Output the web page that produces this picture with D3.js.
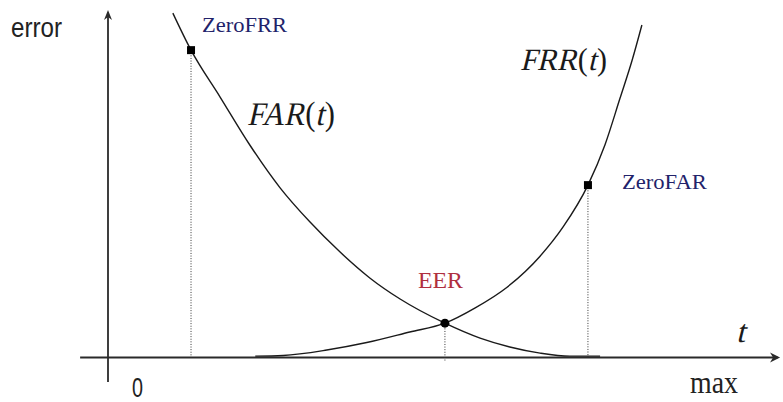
<!DOCTYPE html>
<html>
<head>
<meta charset="utf-8">
<script src="https://cdn.jsdelivr.net/npm/d3@7"></script>
<style>
  body { margin: 0; background: #fff; }
  svg { display: block; }
</style>
</head>
<body>
<div id="chart"></div>
<script>
// FAR / FRR en función del umbral t (0..max).
// error en una escala 0..100 arbitraria.
const farT = [10.7, 13.7, 18.5, 23.4, 28.4, 33.3, 38.3, 43.2, 48.2, 55.6, 61.4, 66.3, 71.3, 76.2, 81.2];
const farE = [101.3, 90.4, 76.6, 62.5, 49.9, 39.9, 31.0, 23.4, 17.2, 10.1, 5.7, 3.1, 1.3, 0.4, 0.4];

const frrT = [24.3, 28.9, 36.1, 42.7, 49.8, 55.6, 60.6, 65.8, 71.3, 75.1, 79.2, 82.0, 84.5, 86.5, 88.1];
const frrE = [0.4, 0.6, 2.2, 4.4, 7.5, 10.1, 14.6, 20.6, 29.8, 38.4, 50.7, 62.5, 76.3, 87.5, 97.8];

// puntos notables
const pointNames = ['ZeroFRR', 'EER', 'ZeroFAR'];
const pointT = [13.7, 55.6, 79.2];
const pointE = [90.4, 10.1, 50.7];

const tickValues = [0, 100];
const tickLabels = ['0', 'max'];

const width = 783, height = 402;

const x = d3.scaleLinear().domain([0, 100]).range([108, 714]);
const y = d3.scaleLinear().domain([0, 100]).range([357.5, 17.5]);

const svg = d3.select('#chart').append('svg')
  .attr('width', width).attr('height', height)
  .attr('role', 'img')
  .attr('aria-label', 'FAR(t) y FRR(t) frente al umbral t, con ZeroFRR, EER y ZeroFAR');

const ink = '#1a1a1a';
const serif = '"Liberation Serif", "Times New Roman", serif';

// ejes con flecha
svg.append('line')
  .attr('x1', x(-4.6)).attr('x2', x(110.5)).attr('y1', y(0)).attr('y2', y(0))
  .attr('stroke', '#2a2a2a').attr('stroke-width', 1.8);
svg.append('line')
  .attr('x1', x(0)).attr('x2', x(0)).attr('y1', y(-7.2)).attr('y2', y(101.5))
  .attr('stroke', '#2a2a2a').attr('stroke-width', 1.8);

const ax = x(0), ay = y(102.2);
svg.append('path')
  .attr('d', `M${ax},${ay} L${ax - 4},${ay + 10} L${ax},${ay + 7} L${ax + 4},${ay + 10} Z`)
  .attr('fill', '#2a2a2a');
const bx = x(110.9), by = y(0);
svg.append('path')
  .attr('d', `M${bx},${by} L${bx - 10},${by - 5} L${bx - 7},${by} L${bx - 10},${by + 5} Z`)
  .attr('fill', '#2a2a2a');

// líneas punteadas desde los puntos al eje
pointT.forEach((t, i) => {
  svg.append('line')
    .attr('x1', x(t)).attr('x2', x(t))
    .attr('y1', y(pointE[i])).attr('y2', y(0) + (i === 1 ? 3 : 0))
    .attr('stroke', '#333').attr('stroke-width', 1)
    .attr('stroke-dasharray', '1,1.6');
});

// curvas
const line = d3.line()
  .x(d => x(d[0])).y(d => y(d[1]))
  .curve(d3.curveMonotoneX);

[[farT, farE], [frrT, frrE]].forEach(([ts, es]) => {
  svg.append('path')
    .datum(ts.map((t, i) => [t, es[i]]))
    .attr('fill', 'none').attr('stroke', ink).attr('stroke-width', 1.4)
    .attr('d', line);
});

// marcadores
pointT.forEach((t, i) => {
  if (pointNames[i] === 'EER') {
    svg.append('circle').attr('cx', x(t)).attr('cy', y(pointE[i])).attr('r', 4.5).attr('fill', '#000');
  } else {
    svg.append('rect')
      .attr('x', x(t) - 4).attr('y', y(pointE[i]) - 4)
      .attr('width', 8).attr('height', 8).attr('fill', '#000');
  }
});

// etiquetas de los puntos
const pointLabel = {
  ZeroFRR: { dx: 11, dy: -18, size: 21, len: 85, color: '#22226a' },
  EER:     { dx: -27, dy: -35, size: 24, len: 45, color: '#b0303f' },
  ZeroFAR: { dx: 34, dy: 4, size: 20, len: 85, color: '#22226a' }
};
pointNames.forEach((name, i) => {
  const L = pointLabel[name];
  svg.append('text')
    .attr('x', x(pointT[i]) + L.dx).attr('y', y(pointE[i]) + L.dy)
    .attr('font-family', serif)
    .attr('font-size', L.size)
    .attr('textLength', L.len).attr('lengthAdjust', 'spacingAndGlyphs')
    .attr('fill', L.color)
    .text(name);
});

// texto "matemático": letras en cursiva, paréntesis rectos
function mathLabel(px, py, size, len, parts) {
  const g = svg.append('g');
  let cx = 0;
  parts.forEach(([str, italic]) => {
    const t = g.append('text')
      .attr('font-family', serif).attr('font-size', size)
      .attr('fill', ink)
      .attr('transform', `translate(${cx},0)` + (italic ? ' skewX(-14)' : ''))
      .text(str);
    cx += t.node().getComputedTextLength() + (italic ? 1 : 0);
  });
  const k = len ? len / cx : 1;
  g.attr('transform', `translate(${px},${py}) scale(${k},1)`);
}
mathLabel(247, 125, 33, 88, [['FAR', true], ['(', false], ['t', true], [')', false]]);
mathLabel(520, 70, 31, 87, [['FRR', true], ['(', false], ['t', true], [')', false]]);
mathLabel(736, 342, 32, 0, [['t', true]]);

// rótulo del eje y
svg.append('text')
  .attr('x', 11).attr('y', 37)
  .attr('font-family', '"Liberation Sans", Arial, sans-serif')
  .attr('font-size', 28)
  .attr('textLength', 51).attr('lengthAdjust', 'spacingAndGlyphs')
  .attr('fill', '#222').text('error');

// marcas 0 y max
svg.append('text')
  .attr('x', x(tickValues[0]) + 24).attr('y', 397)
  .attr('font-family', '"Liberation Sans", Arial, sans-serif')
  .attr('font-size', 27)
  .attr('textLength', 11).attr('lengthAdjust', 'spacingAndGlyphs')
  .attr('fill', '#222').text(tickLabels[0]);
svg.append('text')
  .attr('x', x(tickValues[1])).attr('y', 393)
  .attr('text-anchor', 'middle')
  .attr('font-family', serif)
  .attr('font-size', 32)
  .attr('textLength', 48).attr('lengthAdjust', 'spacingAndGlyphs')
  .attr('fill', '#222').text(tickLabels[1]);
</script>
</body>
</html>
